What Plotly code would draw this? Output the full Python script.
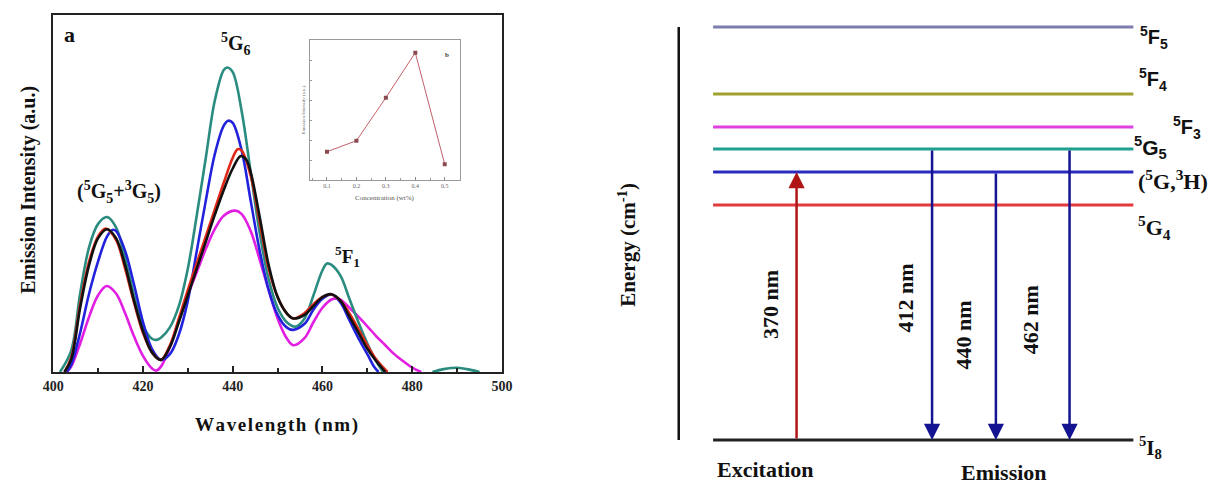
import plotly.graph_objects as go

W, H = 1219, 485
SERIF = "Liberation Serif"
SANS = "Liberation Sans"

# ---------------- data: emission spectra (panel a) ----------------
teal_x = [401.5, 404, 406, 408, 410, 412, 414, 416, 418, 420, 422, 423, 424, 426, 428, 430, 432, 434, 436, 438,
          438.8, 440, 442, 444, 446, 448, 450, 452, 454, 456, 458, 460, 461, 462, 464, 466, 468, 470, 472, 473.5,
          None, 484.5, 487, 490, 493, 495]
teal_y = [0, 6, 22, 35, 41.5, 43.4, 40.5, 32, 21.5, 13, 9.3, 9.0, 9.6, 12.5, 18.5, 29, 44, 60, 76, 84.6,
          85.3, 84, 73, 56, 39, 26, 18, 14, 12.7, 15, 21.5, 28.5, 30.4, 30, 27, 20.5, 14, 8, 3, 0,
          None, 0, 0.8, 1.2, 0.6, 0]

blue_x = [403, 404, 406, 408, 410, 412, 413.2, 414, 416, 418, 420, 422, 424, 426, 428, 430, 432, 434, 436, 438,
          439, 440, 442, 444, 446, 448, 450, 452, 453.5, 456, 458, 460, 462, 464, 466, 468, 470, 471.5, 472.5]
blue_y = [0, 2, 11, 22, 31, 38, 39.8, 39.5, 34, 24.5, 14, 6.5, 3.4, 5, 10.5, 20, 34, 48, 61, 69,
          70.4, 69.8, 62, 48, 34, 23, 16, 12.5, 11.8, 13.5, 17.5, 20.5, 21.7, 19.5, 14.5, 9.5, 5, 1.5, 0]

red_x = [402.5, 404, 406, 408, 410, 411.7, 414, 416, 418, 420, 422, 424, 426, 428, 430, 432, 434, 436, 438, 440,
         441.1, 442, 444, 446, 448, 450, 452, 453.5, 456, 458, 460, 462, 464, 466, 468, 470, 472, 474.5]
red_y = [0, 4, 19, 31, 38, 40.2, 37, 29, 19.5, 11, 5.5, 3.4, 7.5, 15, 23, 30.5, 38, 45.5, 53, 60,
         62.4, 62, 55, 42, 29, 21, 16.5, 15, 16.5, 19, 21, 21.7, 20, 16.5, 12, 7.5, 3.5, 0]

black_x = [402.5, 404, 406, 408, 410, 412, 414, 416, 418, 420, 422, 424, 426, 428, 430, 432, 434, 436, 438, 440,
           441.8, 443, 444, 446, 448, 450, 452, 453.5, 456, 458, 460, 462, 464, 466, 468, 470, 472, 474]
black_y = [0, 3.5, 18, 30, 37.5, 40, 37.5, 30, 20, 11.5, 5.5, 3.4, 7, 14, 21.5, 29, 36.5, 44, 51, 57,
           60.5, 59.5, 56, 43.5, 30, 21, 16.5, 15, 16, 18.5, 21, 21.8, 20, 15.5, 11, 6.5, 3, 0]

magenta_x = [403, 404, 406, 408, 410, 411.9, 414, 416, 418, 420, 422, 423, 424, 426, 428, 430, 432, 434, 436, 438,
             440.6, 442, 444, 446, 448, 450, 452, 453.5, 456, 458, 460, 462, 463.2, 464, 466, 468, 470, 472, 474,
             476, 478, 480, 482]
magenta_y = [0, 1.5, 8, 15.5, 21.5, 24.1, 22, 16.5, 10, 4.5, 1, 0.4, 1.5, 7, 14.5, 21.5, 28, 34.5, 40, 43.8,
             45.2, 44.2, 39.5, 31.5, 23, 15, 9.5, 7.5, 9.5, 14, 18, 20.3, 20.6, 20.3, 18, 15.5, 12.8, 10, 7.5,
             5, 3, 1.2, 0]

wl_ticks = [400, 420, 440, 460, 480, 500]

# ---------------- data: inset (concentration dependence) ----------------
conc_labels = ["0.1", "0.2", "0.3", "0.4", "0.5"]
conc_intensity = [28.3, 39.3, 82.3, 127.3, 15.7]

# ---------------- data: energy level diagram ----------------
level_names = ["5I8", "5G4", "(5G,3H)", "5G5", "5F3", "5F4", "5F5"]
level_height = [0, 235, 268, 291, 313, 346, 413]
level_text = ["<sup>5</sup>I<sub>8</sub>", "<sup>5</sup>G<sub>4</sub>", "(<sup>5</sup>G,<sup>3</sup>H)",
              "<sup>5</sup>G<sub>5</sub>", "<sup>5</sup>F<sub>3</sub>", "<sup>5</sup>F<sub>4</sub>",
              "<sup>5</sup>F<sub>5</sub>"]
trans_from = ["5I8", "5G5", "(5G,3H)", "5G5"]
trans_to = ["(5G,3H)", "5I8", "5I8", "5I8"]
trans_label = ["370 nm", "412 nm", "440 nm", "462 nm"]

# ---------------- styling / layout constants ----------------
spec_colors = {"magenta": "#e21ee2", "teal": "#2a8c7e", "blue": "#2222dd", "red": "#e02818", "black": "#111111"}
level_colors = ["#222222", "#e23a3a", "#2a2ac0", "#20a090", "#e040e0", "#a0a030", "#7c7cae"]
level_label_pos = [(1160, 447), (1165, 227), (1183, 180), (1160, 147), (1198, 128), (1163, 80), (1164, 38)]
level_label_font = [SERIF, SERIF, SERIF, SANS, SANS, SANS, SANS]
level_label_size = [21, 22, 22, 21, 20, 20, 20]
level_x0, level_x1 = 715, 1143
energy_axis_x = 680
trans_x = [800, 938, 1003, 1078]
trans_color = ["#b01515", "#141490", "#141490", "#141490"]
trans_label_pos = [(773, 305), (910, 298), (970, 335), (1038, 320)]


def px(x):
    return x / W


def py(y):
    return 1 - y / H


fig = go.Figure()

# spectra
for name, xs, ys in [("magenta", magenta_x, magenta_y), ("teal", teal_x, teal_y), ("blue", blue_x, blue_y),
                     ("red", red_x, red_y), ("black", black_x, black_y)]:
    fig.add_trace(go.Scatter(x=xs, y=ys, mode="lines", line=dict(color=spec_colors[name], width=2.6, shape="spline",
                                                                     smoothing=1.0),
                             xaxis="x", yaxis="y", showlegend=False, hoverinfo="skip"))

# inset
fig.add_trace(go.Scatter(x=list(range(len(conc_labels))), y=conc_intensity, mode="lines+markers",
                         line=dict(color="#c0606a", width=1),
                         marker=dict(color="#8a4a50", size=4, symbol="square"),
                         xaxis="x2", yaxis="y2", showlegend=False, hoverinfo="skip"))

# energy axis
fig.add_trace(go.Scatter(x=[energy_axis_x, energy_axis_x], y=[min(level_height), max(level_height)],
                         mode="lines", line=dict(color="#111111", width=2.5),
                         xaxis="x3", yaxis="y3", showlegend=False, hoverinfo="skip"))
# energy levels
for h, c in zip(level_height, level_colors):
    fig.add_trace(go.Scatter(x=[level_x0, level_x1], y=[h, h], mode="lines", line=dict(color=c, width=3),
                             xaxis="x3", yaxis="y3", showlegend=False, hoverinfo="skip"))

annotations = []
lvl = dict(zip(level_names, level_height))
for f, t, x, c in zip(trans_from, trans_to, trans_x, trans_color):
    annotations.append(dict(x=x, y=lvl[t], ax=x, ay=lvl[f], xref="x3", yref="y3", axref="x3", ayref="y3",
                            text="", showarrow=True, arrowhead=2, arrowsize=1.3, arrowwidth=2.5, arrowcolor=c))


def label(text, x, y, size, angle=0, family=SERIF, color="#111"):
    annotations.append(dict(x=px(x), y=py(y), xref="paper", yref="paper", text=text, textangle=angle,
                            xanchor="center", yanchor="middle",
                            showarrow=False, font=dict(family=family, size=size, color=color)))


for lab, (lx, ly) in zip(trans_label, trans_label_pos):
    label("<b>%s</b>" % lab, lx, ly, 22, -90)
for txt, (lx, ly), fam, sz in zip(level_text, level_label_pos, level_label_font, level_label_size):
    label("<b>%s</b>" % txt, lx, ly, sz, family=fam)

HS = "\u200a"
label("<b>Energy (cm<sup>-1</sup>)</b>", 627, 245, 21, -90)
label("<b>Excitation</b>", 768, 469, 22)
label("<b>Emission</b>", 1011, 472, 22)

# panel a texts
label("<b>Emission Intensity (a.u.)</b>", 18, 190, 20, -90)
label("<b>" + HS.join("Wavelength (nm)") + "</b>", 270, 425, 19)
label("<b>a</b>", 60, 35, 22)
label("<b><sup>5</sup>G<sub>6</sub></b>", 229, 44, 20)
label("<b>(<sup>5</sup>G<sub>5</sub>+<sup>3</sup>G<sub>5</sub>)</b>", 110, 192, 20)
label("<b><sup>5</sup>F<sub>1</sub></b>", 343, 256, 19)
# inset texts
label("Emission Intensity (a.u.)", 298, 110, 5, -90, color="#666")
label("Concentration (wt%)", 381, 198, 7, color="#555")
label("<b>b</b>", 444, 55, 7, color="#444")

fig.update_layout(
    width=W, height=H, margin=dict(l=0, r=0, t=0, b=0),
    paper_bgcolor="white", plot_bgcolor="rgba(0,0,0,0)",
    showlegend=False,
    annotations=annotations,
    xaxis=dict(domain=[px(43), px(500)], range=[400, 500], tickvals=wl_ticks, ticks="inside", ticklen=6,
               tickwidth=2, tickcolor="#222", minor=dict(dtick=10, ticks="inside", ticklen=4, tickwidth=2,
                                                         tickcolor="#222"),
               showline=True, mirror=True, linecolor="#222", linewidth=2, showgrid=False, zeroline=False,
               tickfont=dict(family=SERIF, size=14, color="#222", weight="bold"), anchor="y"),
    yaxis=dict(domain=[py(372), py(15)], range=[0, 100], showticklabels=False, ticks="",
               showline=True, mirror=True, linecolor="#222", linewidth=2, showgrid=False, zeroline=False,
               anchor="x"),
    xaxis2=dict(domain=[px(305), px(457)], range=[-0.56, 4.51], tickvals=list(range(len(conc_labels))),
                ticktext=conc_labels, ticks="inside", ticklen=3, tickcolor="#888",
                minor=dict(dtick=0.5, ticks="inside", ticklen=2, tickcolor="#999"),
                showline=True, mirror=True, linecolor="#999", linewidth=1, showgrid=False, zeroline=False,
                tickfont=dict(family=SERIF, size=6, color="#666"), anchor="y2"),
    yaxis2=dict(domain=[py(180), py(40)], range=[0, 140], showticklabels=False, ticks="inside", ticklen=2,
                dtick=20, tickcolor="#999",
                showline=True, mirror=True, linecolor="#999", linewidth=1, showgrid=False, zeroline=False,
                anchor="x2"),
    xaxis3=dict(domain=[px(600), 1.0], range=[600, W], visible=False, anchor="y3"),
    yaxis3=dict(domain=[0, 1], range=[-45, 440], visible=False, anchor="x3"),
)

fig.write_html("out.html")
